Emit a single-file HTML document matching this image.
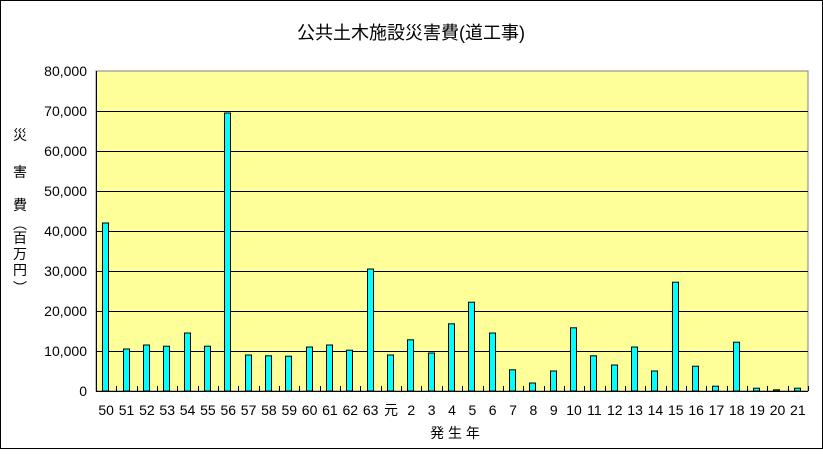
<!DOCTYPE html>
<html><head><meta charset="utf-8"><style>
body{margin:0;background:#fff}
svg text{font-family:"Liberation Sans","Noto Sans CJK JP",sans-serif}
</style></head><body>
<svg width="823" height="449" xmlns="http://www.w3.org/2000/svg">
<rect x="0.5" y="0.5" width="822" height="448" fill="#fff" stroke="#000"/>
<text x="411" y="39" font-size="18" text-anchor="middle">公共土木施設災害費(道工事)</text>
<rect x="96" y="71" width="712" height="320" fill="#ffff99" stroke="#808080"/>
<g stroke="#000" stroke-width="1">
<line x1="96" y1="111.5" x2="808" y2="111.5"/><line x1="96" y1="151.5" x2="808" y2="151.5"/>
<line x1="96" y1="191.5" x2="808" y2="191.5"/><line x1="96" y1="231.5" x2="808" y2="231.5"/>
<line x1="96" y1="271.5" x2="808" y2="271.5"/><line x1="96" y1="311.5" x2="808" y2="311.5"/>
<line x1="96" y1="351.5" x2="808" y2="351.5"/>
</g>
<g id="bars"></g>
<g font-size="14" text-anchor="end">
<text x="87" y="76">80,000</text><text x="87" y="116">70,000</text><text x="87" y="156">60,000</text>
<text x="87" y="196">50,000</text><text x="87" y="236">40,000</text><text x="87" y="276">30,000</text>
<text x="87" y="316">20,000</text><text x="87" y="356">10,000</text><text x="87" y="396">0</text>
</g>
<g font-size="14" text-anchor="middle">
<text x="20" y="140">災</text><text x="20" y="177">害</text><text x="20" y="210">費</text>
<text x="20" y="229">︵</text><text x="20" y="243">百</text><text x="20" y="259">万</text><text x="20" y="275">円</text><text x="20" y="293">︶</text>
</g>
<text x="455" y="438" font-size="14" text-anchor="middle">発 生 年</text>
<g id="labels" font-size="14" text-anchor="middle"></g>
<script>
var v=[42000,10500,11500,11200,14500,11200,69500,9000,8800,8700,11000,11500,10200,30500,9000,12800,9500,16800,22200,14500,5300,2000,5000,15800,8800,6500,11000,5000,27200,6200,1200,12200,700,300,700];
var l=["50","51","52","53","54","55","56","57","58","59","60","61","62","63","元","2","3","4","5","6","7","8","9","10","11","12","13","14","15","16","17","18","19","20","21"];
var ns="http://www.w3.org/2000/svg",b=document.getElementById("bars"),t=document.getElementById("labels");
var s=712/35;
for(var i=0;i<35;i++){
 var c=96+s*(i+0.5),h=v[i]*0.004;
 var r=document.createElementNS(ns,"rect");
 r.setAttribute("x",Math.round(c-4)+0.5);r.setAttribute("y",391-h);r.setAttribute("width",6);r.setAttribute("height",h);
 r.setAttribute("fill","#00ffff");r.setAttribute("stroke","#000");b.appendChild(r);
 var k=document.createElementNS(ns,"line");var x=Math.round(96+s*(i+1))+0.5;
 k.setAttribute("x1",x);k.setAttribute("x2",x);k.setAttribute("y1",386);k.setAttribute("y2",391);k.setAttribute("stroke","#000");b.appendChild(k);
 var tx=document.createElementNS(ns,"text");tx.setAttribute("x",c);tx.setAttribute("y",415);tx.textContent=l[i];t.appendChild(tx);
}
</script>
<line x1="96" y1="391.5" x2="808" y2="391.5" stroke="#000"/>
<line x1="96.5" y1="71" x2="96.5" y2="391" stroke="#000"/>
</svg>
</body></html>
